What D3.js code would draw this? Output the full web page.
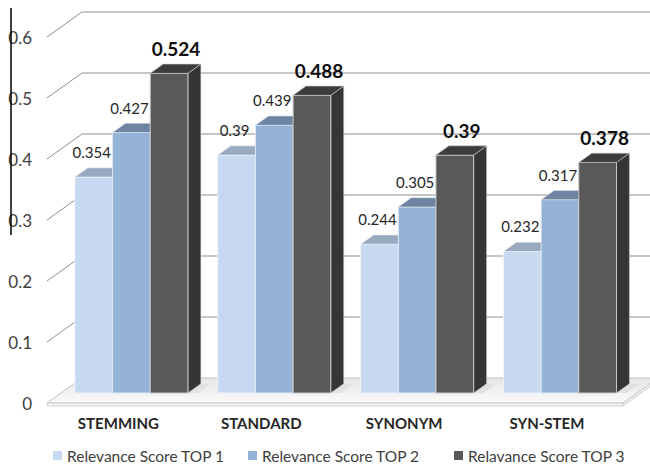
<!DOCTYPE html>
<html>
<head>
<meta charset="utf-8">
<script src="https://cdn.jsdelivr.net/npm/d3@7/dist/d3.min.js"></script>
<style>
  body { margin: 0; background: #fff; }
  svg { display: block; font-family: Lato, "Open Sans", sans-serif; }
</style>
</head>
<body>
<svg id="chart" width="650" height="468"></svg>
<script>
// ---- data ----
const categories = ["STEMMING", "STANDARD", "SYNONYM", "SYN-STEM"];
const seriesNames = ["Relevance Score TOP 1", "Relevance Score TOP 2", "Relavance Score TOP 3"];
const top1 = [0.354, 0.39, 0.244, 0.232];
const top2 = [0.427, 0.439, 0.305, 0.317];
const top3 = [0.524, 0.488, 0.39, 0.378];
const yTicks = [0, 0.1, 0.2, 0.3, 0.4, 0.5, 0.6];
const yTickLabels = ["0", "0.1", "0.2", "0.3", "0.4", "0.5", "0.6"];

const seriesValues = [top1, top2, top3];

// face colours per series: front, top, side
const palette = [
  { front: "#c6d9f1", top: "#98a9c0", side: "#a9bcd6", stroke: "#eef3fa" },
  { front: "#95b3d7", top: "#6e84a3", side: "#7690b4", stroke: "#dfe8f3" },
  { front: "#595959", top: "#3c3c3c", side: "#353535", stroke: "#c8c8c8" }
];

const svg = d3.select("#chart");

// ---- oblique 3D projection ----
// world x, value v, depth z (0 = front edge of floor, 1 = back wall)
const DX = 35, DY = -25;
const y = d3.scaleLinear().domain([0, 0.6]).range([403, 37]);
const P = (wx, v, z) => [wx + z * DX, y(v) + z * DY];
const poly = pts => pts.map(p => p.join(",")).join(" ");

const x0 = d3.scaleBand().domain(categories)
  .range([46, 617.4]).paddingInner(0.209).paddingOuter(0.1045);
const x1 = d3.scaleBand().domain(d3.range(seriesNames.length))
  .range([0, x0.bandwidth()]);

const FLOOR_L = 47, FLOOR_R = 623;
const BAR_Z0 = 0.4, BAR_Z1 = 0.77;

// ---- walls: gridlines ----
const grid = svg.append("g");
yTicks.filter(t => t > 0).forEach(t => {
  // side wall (diagonal)
  const a = P(FLOOR_L, t, 0), b = P(FLOOR_L, t, 1);
  grid.append("line").attr("x1", a[0]).attr("y1", a[1]).attr("x2", b[0]).attr("y2", b[1])
    .attr("stroke", "#8f8f8f").attr("stroke-width", 1);
  // back wall
  const c = P(FLOOR_R + 60, t, 1);
  grid.append("line").attr("x1", b[0]).attr("y1", b[1]).attr("x2", c[0]).attr("y2", c[1])
    .attr("stroke", "#b3b3b3").attr("stroke-width", 1.6);
});

// ---- floor ----
const defs = svg.append("defs");
const fg = defs.append("linearGradient").attr("id", "floorGrad")
  .attr("x1", 0).attr("y1", 0).attr("x2", 0).attr("y2", 1);
fg.append("stop").attr("offset", "0%").attr("stop-color", "#e6e6e6");
fg.append("stop").attr("offset", "100%").attr("stop-color", "#fafafa");

const floor = svg.append("g");
floor.append("polygon")
  .attr("points", poly([P(FLOOR_L, 0, 0), P(FLOOR_R, 0, 0), P(FLOOR_R, 0, 1), P(FLOOR_L, 0, 1)]))
  .attr("fill", "url(#floorGrad)").attr("stroke", "#c4c4c4").attr("stroke-width", 1);
// thin slab edge
const fl = P(FLOOR_L, 0, 0), fr = P(FLOOR_R, 0, 0);
floor.append("polygon")
  .attr("points", poly([fl, fr, [fr[0], fr[1] + 3], [fl[0], fl[1] + 3]]))
  .attr("fill", "#f4f4f4").attr("stroke", "#c8c8c8").attr("stroke-width", 0.8);
const frb = P(FLOOR_R, 0, 1);
floor.append("polygon")
  .attr("points", poly([fr, frb, [frb[0], frb[1] + 3], [fr[0], fr[1] + 3]]))
  .attr("fill", "#ececec").attr("stroke", "#c8c8c8").attr("stroke-width", 0.8);

// ---- bars ----
const bars = svg.append("g");
categories.forEach((cat, ci) => {
  seriesValues.forEach((vals, si) => {
    const v = vals[ci];
    const xl = x0(cat) + x1(si), xr = xl + x1.bandwidth();
    const c = palette[si];
    const g = bars.append("g");
    // floor shadow behind the bar
    g.append("polygon")
      .attr("points", poly([P(xr, 0, BAR_Z0), P(xr + 10, 0, BAR_Z0), P(xr + 10, 0, BAR_Z1), P(xr, 0, BAR_Z1)]))
      .attr("fill", "#d9d9d9").attr("opacity", 0.6);
    g.append("polygon")
      .attr("points", poly([P(xr, 0, BAR_Z0), P(xr, 0, BAR_Z1), P(xr, v, BAR_Z1), P(xr, v, BAR_Z0)]))
      .attr("fill", c.side).attr("stroke", c.stroke).attr("stroke-width", 0.6);
    g.append("polygon")
      .attr("points", poly([P(xl, 0, BAR_Z0), P(xr, 0, BAR_Z0), P(xr, v, BAR_Z0), P(xl, v, BAR_Z0)]))
      .attr("fill", c.front).attr("stroke", c.stroke).attr("stroke-width", 1);
    g.append("polygon")
      .attr("points", poly([P(xl, v, BAR_Z0), P(xr, v, BAR_Z0), P(xr, v, BAR_Z1), P(xl, v, BAR_Z1)]))
      .attr("fill", c.top).attr("stroke", c.stroke).attr("stroke-width", 0.6);
  });
});

// ---- value labels ----
const labels = svg.append("g");
categories.forEach((cat, ci) => {
  seriesValues.forEach((vals, si) => {
    const v = vals[ci];
    const xl = x0(cat) + x1(si);
    const p = P(xl + x1.bandwidth() / 2, v, BAR_Z0);
    labels.append("text")
      .attr("x", p[0] + (si === 2 ? 7 : -2))
      .attr("y", p[1] - 25)
      .attr("text-anchor", "middle")
      .attr("dominant-baseline", "central")
      .attr("font-size", si === 2 ? 19 : 15)
      .attr("font-weight", si === 2 ? "bold" : "normal")
      .attr("fill", si === 2 ? "#0d0d0d" : "#262626")
      .text(String(v));
  });
});

// ---- value axis labels ----
const yAxis = svg.append("g");
yTicks.forEach((t, i) => {
  yAxis.append("text")
    .attr("x", 32).attr("y", y(t))
    .attr("text-anchor", "end").attr("dominant-baseline", "central")
    .attr("font-size", 17).attr("fill", "#404040")
    .text(yTickLabels[i]);
});
svg.append("line").attr("x1", 11).attr("x2", 11).attr("y1", 8).attr("y2", 235)
  .attr("stroke", "#000").attr("stroke-width", 1.5);

// ---- category labels ----
const xAxis = svg.append("g");
categories.forEach(cat => {
  xAxis.append("text")
    .attr("x", x0(cat) + x0.bandwidth() / 2 + 1).attr("y", 423)
    .attr("text-anchor", "middle").attr("dominant-baseline", "central")
    .attr("font-size", 15).attr("font-weight", "bold").attr("fill", "#262626")
    .text(cat);
});

// ---- legend ----
const legendX = [53, 248, 454];
const legend = svg.append("g");
seriesNames.forEach((name, i) => {
  legend.append("rect")
    .attr("x", legendX[i]).attr("y", 451).attr("width", 9).attr("height", 9)
    .attr("fill", palette[i].front);
  legend.append("text")
    .attr("x", legendX[i] + 14).attr("y", 456)
    .attr("dominant-baseline", "central")
    .attr("font-size", 15.5).attr("fill", "#404040")
    .text(name);
});
</script>
</body>
</html>
